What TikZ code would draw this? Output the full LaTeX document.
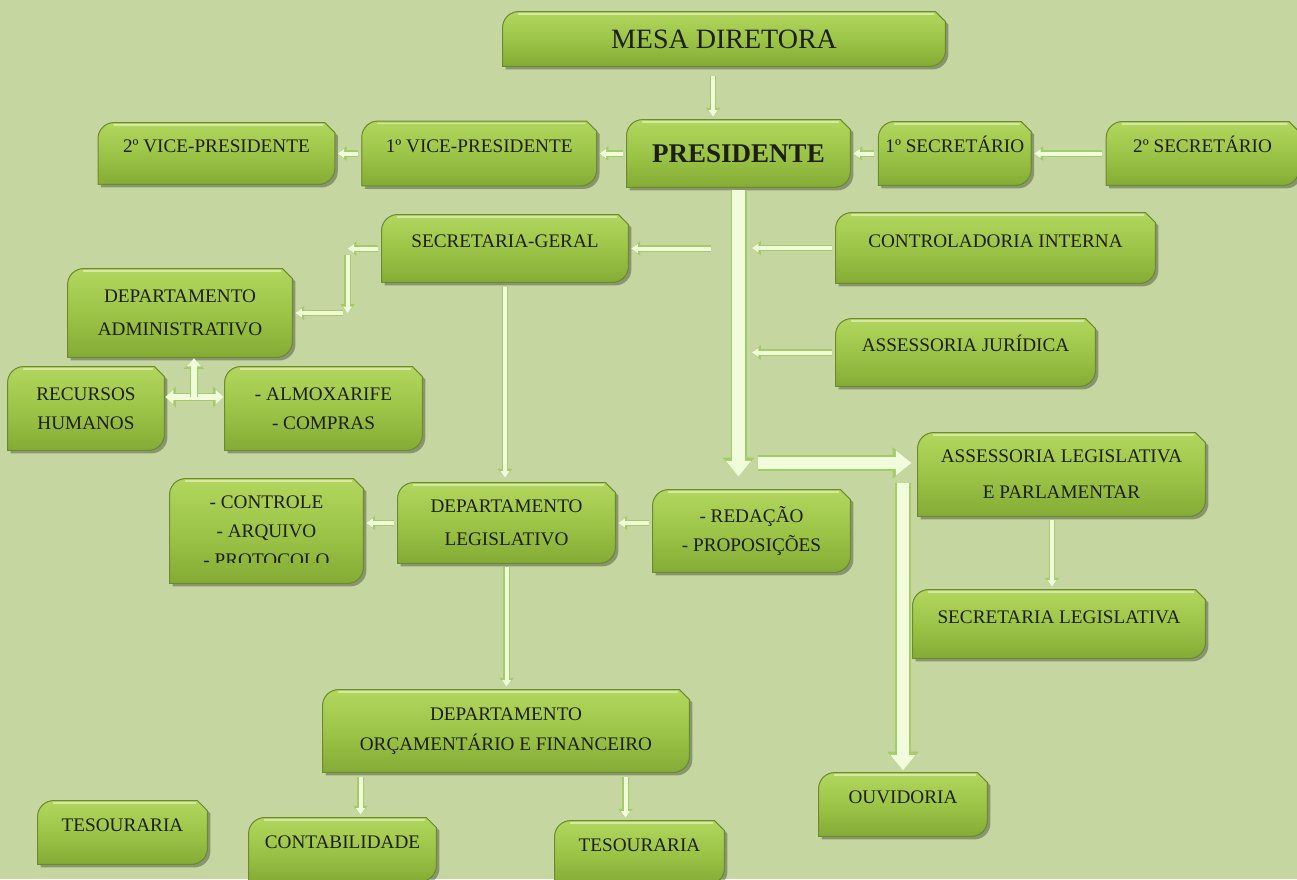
\documentclass[tikz,border=0pt]{standalone}
\usepackage{fontspec}
\setmainfont{Liberation Serif}
\usetikzlibrary{positioning, arrows.meta, backgrounds, shadows}

\definecolor{paper}{RGB}{197,214,160}
\definecolor{boxtop}{RGB}{178,214,94}
\definecolor{boxmid}{RGB}{156,197,72}
\definecolor{boxbot}{RGB}{132,171,52}
\definecolor{boxedge}{RGB}{106,140,46}
\definecolor{ink}{RGB}{30,30,20}
\definecolor{pale}{RGB}{240,252,220}
\definecolor{paleedge}{RGB}{160,205,100}

\tikzset{
  linkhead/.tip={Triangle[width=0pt 2.2, length=1.2pt 1]},
  bighead/.tip={Triangle[width=0pt 1.9, length=1.5pt 1]},
  hubhead/.tip={Triangle[width=0pt 2.4, length=1pt 1]},
  box/.style={inner sep=0pt, align=center, text=ink, font=\fontsize{9.6}{16}\selectfont},
  lead/.style={font=\fontsize{9.6}{#1}\selectfont},
  oneline/.style={text height=7pt, text depth=8pt},
  link/.style={draw=pale, line width=2pt, -{linkhead}, shorten <=2pt, shorten >=1.5pt,
    preaction={draw=paleedge, line width=3.2pt}},
  bigarrow/.style={draw=pale, line width=6.4pt, -{bighead}, shorten <=1.5pt, shorten >=1pt,
    preaction={draw=paleedge, line width=8pt}},
  hubarrow/.style={draw=pale, line width=3pt, preaction={draw=paleedge, line width=4.2pt}},
  skin/.style={top color=boxtop, bottom color=boxbot, middle color=boxmid, draw=boxedge, line width=0.5pt,
    drop shadow={shadow xshift=1.5pt, shadow yshift=-1.5pt, opacity=0.3, fill=black}},
  gloss/.style={draw=boxtop!55!white, line width=0.8pt, line cap=round}
}

\begin{document}
\begin{tikzpicture}[x=0.5pt, y=-0.5pt]
  \useasboundingbox (0,0) rectangle (1297,879);

  \node [box, font=\fontsize{14}{16}\selectfont, minimum width=221pt, minimum height=27pt] (mesa) at (724,39) {MESA DIRETORA};
  \node [box, font=\bfseries\fontsize{13.5}{16}\selectfont, minimum width=111.5pt, minimum height=33.5pt] (pres) at (738.5,153.5) {PRESIDENTE};
    \node [box, oneline, minimum width=117pt, minimum height=32pt, left=15pt of pres] (vice1) {1º VICE-PRESIDENTE};
    \node [box, oneline, minimum width=118pt, minimum height=30.5pt, left=13.5pt of vice1] (vice2) {2º VICE-PRESIDENTE};
    \node [box, oneline, minimum width=76pt, minimum height=31.5pt, right=14pt of pres] (sec1) {1º SECRETÁRIO};
    \node [box, oneline, minimum width=96pt, minimum height=31.5pt, right=37.5pt of sec1] (sec2) {2º SECRETÁRIO};

  \node [box, oneline, minimum width=123pt, minimum height=33.5pt] (secger) at (505,248.5) {SECRETARIA-GERAL};
  \node [box, oneline, minimum width=159.5pt, minimum height=35pt] (contr) at (995.5,248) {CONTROLADORIA INTERNA};
  \node [box, oneline, minimum width=129.5pt, minimum height=33.5pt] (juri) at (965.5,352.5) {ASSESSORIA JURÍDICA};
  \node [box, lead=16.75, minimum width=112pt, minimum height=44pt] (depadm) at (180,313) {DEPARTAMENTO\\ADMINISTRATIVO};
    \node [box, lead=14.5, minimum width=78pt, minimum height=41.5pt] (rh) at (86,408.5) {RECURSOS\\HUMANOS};
    \node [box, lead=14.5, minimum width=98.5pt, minimum height=41.5pt] (almox) at (323.5,408.5) {- ALMOXARIFE\\- COMPRAS};
  \node [box, lead=18, minimum width=143.5pt, minimum height=41.5pt] (asleg) at (1061.5,474.5) {ASSESSORIA LEGISLATIVA\\E PARLAMENTAR};
    \node [box, oneline, minimum width=146pt, minimum height=34pt] (secleg) at (1059,624) {SECRETARIA LEGISLATIVA};
  \begin{scope}
    \clip (150,470) rectangle (380,562);
    \node [box, lead=14.5, minimum width=96.5pt, minimum height=52pt] (ctrl) at (266.5,531) {- CONTROLE\\- ARQUIVO\\- PROTOCOLO};
  \end{scope}
  \node [box, lead=16.5, minimum width=108.5pt, minimum height=40pt] (deplg) at (506.5,523) {DEPARTAMENTO\\LEGISLATIVO};
  \node [box, lead=14, minimum width=98.5pt, minimum height=41pt] (red) at (751.5,531) {- REDAÇÃO\\- PROPOSIÇÕES};
  \node [box, lead=15, minimum width=183pt, minimum height=41pt] (deporc) at (506,731) {DEPARTAMENTO\\ORÇAMENTÁRIO E FINANCEIRO};
    \node [box, oneline, minimum width=93.5pt, minimum height=31.5pt] (cont) at (342.5,849.5) {CONTABILIDADE};
    \node [box, oneline, minimum width=84.5pt, minimum height=31.5pt] (tes2) at (639.5,852.5) {TESOURARIA};
  \node [box, oneline, minimum width=84.5pt, minimum height=31.5pt] (tes1) at (122.5,832.5) {TESOURARIA};
  \node [box, oneline, minimum width=84pt, minimum height=31.5pt] (ouv) at (903,804.5) {OUVIDORIA};

  \draw [link, shorten <=5pt] ([xshift=-5.5pt]mesa.south) -- ([xshift=-12.75pt]pres.north);
    \draw [link] (pres.west) -- (pres.west -| vice1.east);
    \draw [link] (vice1.west) -- (vice1.west -| vice2.east);
    \draw [link] (sec1.west) -- (sec1.west -| pres.east);
    \draw [link] (sec2.west) -- (sec1.east);

  \draw [bigarrow, shorten >=6.5pt] (pres.south) -- (pres.south |- red.north);
  \coordinate (fork) at ([yshift=5.75pt]pres.south |- asleg.west);
    \draw [bigarrow, shorten >=3pt] ([xshift=8pt]fork) -- (fork -| asleg.west);
    \draw [bigarrow] ([yshift=-8.5pt]fork -| ouv.north) -- (ouv.north);

  \draw [link, shorten <=14pt] (pres.south |- secger.east) -- (secger.east);
  \draw [link, shorten >=6.75pt] (contr.west) -- (pres.south |- contr.west);
  \draw [link, shorten >=6.75pt] (juri.west) -- (pres.south |- juri.west);

  \coordinate (bend) at ([xshift=-17pt]secger.west |- depadm.east);
    \draw [link, shorten >=0pt] (secger.west) -- (secger.west -| bend);
    \draw [link, shorten <=3pt, shorten >=0pt] (secger.west -| bend) -- (bend);
    \draw [link, shorten <=2.5pt] (bend) -- (depadm.east);

  \coordinate (hub) at ([xshift=7pt,yshift=5.75pt]depadm.south |- rh.east);
    \draw [hubarrow, {hubhead}-{hubhead}, shorten <=0.5pt, shorten >=0.5pt] (hub -| rh.east) -- (hub -| almox.west);
    \draw [hubarrow, -{hubhead}, shorten >=0.5pt] (hub) -- (hub |- depadm.south);

  \draw [link, shorten <=2.5pt, shorten >=2.5pt] (secger.south) -- (secger.south |- deplg.north);
    \draw [link] (deplg.west) -- (deplg.west -| ctrl.east);
    \draw [link] (red.west |- deplg.east) -- (deplg.east);
    \draw [link] (deplg.south) -- (deplg.south |- deporc.north);
      \draw [link, shorten <=2.5pt] ([xshift=9pt]cont.north |- deporc.south) -- ([xshift=9pt]cont.north);
      \draw [link, shorten <=2.5pt] ([xshift=-7pt]tes2.north |- deporc.south) -- ([xshift=-7pt]tes2.north);
  \draw [link] ([xshift=-4.75pt]asleg.south) -- ([xshift=-4.75pt]asleg.south |- secleg.north);

  \begin{scope}[on background layer]
    \fill [paper] (0,0) rectangle (1297,879);
    \foreach \n in {mesa, pres, vice1, vice2, sec1, sec2, secger, contr, juri, depadm, rh, almox,
                    asleg, secleg, ctrl, deplg, red, deporc, cont, tes2, tes1, ouv} {
      \filldraw [skin] (\n.south west) -- ([yshift=-8pt]\n.north west)
        .. controls ([yshift=-3.6pt]\n.north west) and ([xshift=3.6pt]\n.north west) .. ([xshift=8pt]\n.north west)
        -- ([xshift=-5pt]\n.north east) -- ([yshift=-5pt]\n.north east)
        -- ([yshift=8pt]\n.south east)
        .. controls ([yshift=3.6pt]\n.south east) and ([xshift=-3.6pt]\n.south east) .. ([xshift=-8pt]\n.south east)
        -- cycle;
      \draw [gloss] ([xshift=8pt,yshift=-1.2pt]\n.north west) -- ([xshift=-6pt,yshift=-1.2pt]\n.north east);
    }
  \end{scope}
\end{tikzpicture}
\end{document}
